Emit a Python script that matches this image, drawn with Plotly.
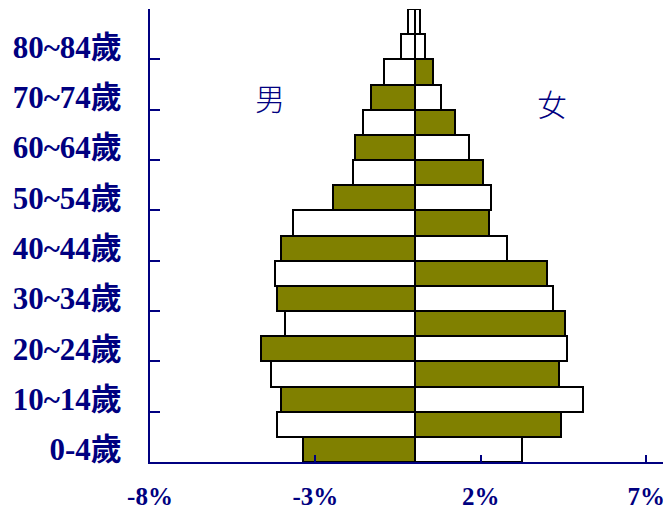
import plotly.graph_objects as go

age_groups = ["0-4", "5-9", "10-14", "15-19", "20-24", "25-29", "30-34", "35-39",
              "40-44", "45-49", "50-54", "55-59", "60-64", "65-69", "70-74",
              "75-79", "80-84", "85+"]
male = [3.38, 4.16, 4.04, 4.34, 4.65, 3.92, 4.16, 4.23, 4.04, 3.69, 2.47, 1.87,
        1.80, 1.57, 1.32, 0.92, 0.42, 0.19]
female = [3.26, 4.42, 5.10, 4.37, 4.62, 4.55, 4.17, 4.00, 2.79, 2.25, 2.31, 2.08,
          1.63, 1.23, 0.80, 0.56, 0.32, 0.17]
tick_labels = ["0-4歲", "10~14歲", "20~24歲", "30~34歲", "40~44歲",
               "50~54歲", "60~64歲", "70~74歲", "80~84歲"]
x_ticks = [-8, -3, 2, 7]

OLIVE = "#808000"
WHITE = "#ffffff"
NAVY = "#000080"
male_fill = [OLIVE if i % 2 == 0 else WHITE for i in range(len(age_groups))]
female_fill = [WHITE if i % 2 == 0 else OLIVE for i in range(len(age_groups))]
male_fill[16] = WHITE
female_fill[17] = WHITE

ypos = list(range(len(age_groups)))

fig = go.Figure()
fig.add_trace(go.Bar(y=ypos, x=[-v for v in male], orientation="h", width=1,
                     marker=dict(color=male_fill, line=dict(color="black", width=2)),
                     name="男", showlegend=False))
fig.add_trace(go.Bar(y=ypos, x=female, orientation="h", width=1,
                     marker=dict(color=female_fill, line=dict(color="black", width=2)),
                     name="女", showlegend=False))
# invisible trace for the tick-mark axis
fig.add_trace(go.Scatter(x=[None], y=[None], yaxis="y2", showlegend=False))

label_font = dict(family="Liberation Serif, Noto Sans CJK TC", color=NAVY, weight="bold")

fig.update_layout(
    width=663, height=512,
    margin=dict(l=142, r=0, t=1, b=58),
    paper_bgcolor="white", plot_bgcolor="white",
    barmode="overlay", bargap=0,
    xaxis=dict(range=[-8, 7.75], tickvals=x_ticks, ticktext=[f"{v}%" for v in x_ticks],
               ticks="inside", ticklen=7, tickwidth=2, tickcolor=NAVY,
               showline=True, linecolor=NAVY, linewidth=2, showgrid=False,
               zeroline=False, tickfont=dict(size=25, **label_font),
               ticklabelstandoff=11, automargin=False),
    yaxis=dict(range=[-0.5, 17.5], tickvals=ypos[0::2][:len(tick_labels)],
               ticktext=tick_labels, ticks="", showline=True, linecolor=NAVY,
               linewidth=2, showgrid=False, zeroline=False,
               tickfont=dict(size=31, **label_font), ticklabelstandoff=20,
               automargin=False),
    yaxis2=dict(range=[-0.5, 17.5], overlaying="y", side="left",
                tickvals=[i + 1.5 for i in range(-2, 17, 2)], showticklabels=False,
                ticks="inside", ticklen=10, tickwidth=2, tickcolor=NAVY,
                showline=False, showgrid=False, zeroline=False, automargin=False),
    annotations=[
        dict(x=-4.37, y=14.0, xref="x", yref="y", text="男", showarrow=False,
             font=dict(family="Noto Sans CJK TC", size=30, color=NAVY, weight=300)),
        dict(x=4.15, y=13.76, xref="x", yref="y", text="女", showarrow=False,
             font=dict(family="Noto Sans CJK TC", size=30, color=NAVY, weight=300)),
    ],
)

fig.write_html("out.html")
